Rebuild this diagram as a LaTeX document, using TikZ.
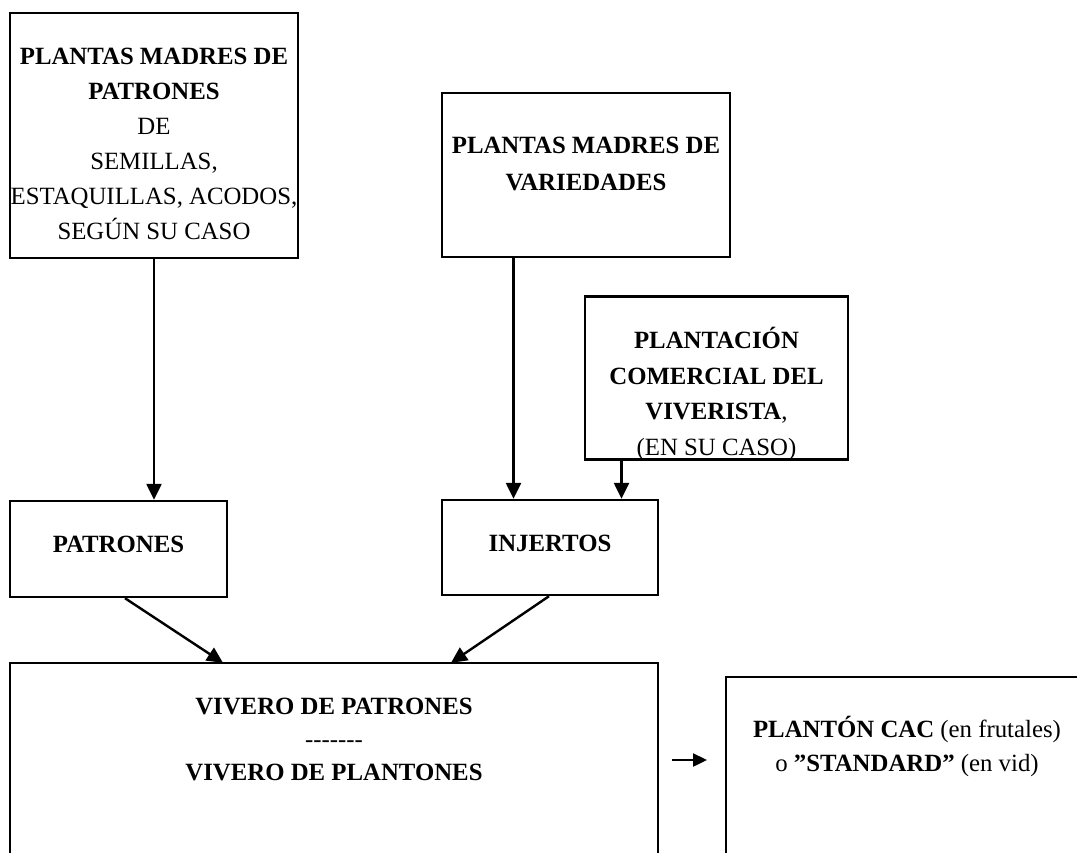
\documentclass[tikz,border=0pt]{standalone}
\usepackage{fontspec}
\setmainfont{Liberation Serif}
\usetikzlibrary{arrows.meta}
\begin{document}
\begin{tikzpicture}[x=1pt,y=-1pt,
  box/.style={draw,line width=2.4pt,inner sep=0pt},
  open/.style={inner sep=0pt},
  edge/.style={line width=2.4pt},
  txt/.style={align=center,font=\fontsize{24.8}{35}\selectfont,inner sep=0pt},
  arr/.style={line width=2.4pt,-{Triangle[width=15pt,length=16pt]}},
  sarr/.style={line width=2.4pt,-{Triangle[width=13pt,length=14pt]}}]
\path[use as bounding box] (0,0) rectangle (1077,852);
\clip (0,0) rectangle (1077,852);
% boxes
\node[box,minimum width=288pt,minimum height=245pt] (pmp) at (154,135.5) {};
\node[txt] (tpmp) at (154,144) {\textbf{PLANTAS MADRES DE}\\\textbf{PATRONES}\\DE\\SEMILLAS,\\ESTAQUILLAS, ACODOS,\\SEGÚN SU CASO};
\node[box,minimum width=288pt,minimum height=164pt] (pmv) at (586,175) {};
\node[txt] (tpmv) at (586,163.5) {\textbf{PLANTAS MADRES DE}\\[2pt]\textbf{VARIEDADES}};
\node[box,minimum width=263pt,minimum height=163pt] (pcv) at (716.5,378) {};
\node[txt,font=\fontsize{24.8}{35.5}\selectfont] (tpcv) at (716.5,394) {\textbf{PLANTACIÓN}\\\textbf{COMERCIAL DEL}\\\textbf{VIVERISTA},\\(EN SU CASO)};
\node[box,minimum width=217pt,minimum height=96pt] (pat) at (118.5,549) {};
\node[txt] at (118.5,544) {\textbf{PATRONES}};
\node[box,minimum width=216pt,minimum height=95pt] (inj) at (550,547.5) {};
\node[txt] at (550,543) {\textbf{INJERTOS}};
% open boxes (cut by the page edge)
\node[open,minimum width=648pt,minimum height=237pt] (viv) at (334,781.5) {};
\draw[edge] (viv.south west) -- (viv.north west) -- (viv.north east) -- (viv.south east);
\node[txt,font=\fontsize{24.8}{33}\selectfont] (tviv) at (334,739) {\textbf{VIVERO DE PATRONES}\\-{}-{}-{}-{}-{}-{}-\\\textbf{VIVERO DE PLANTONES}};
\node[open,minimum width=400pt,minimum height=223pt] (std) at (926,788.5) {};
\draw[edge] (std.south west) -- (std.north west) -- (std.north east);
\node[txt,font=\fontsize{24.8}{34}\selectfont] (tstd) at (907,746) {\textbf{PLANTÓN CAC} (en frutales)\\o \textbf{”STANDARD”} (en vid)};
% connectors
\draw[arr] (pmp.south) -- (pat.north -| pmp.south);
\draw[arr] (pmv.south -| 513.5,0) -- (inj.north -| 513.5,0);
\draw[arr] (pcv.south -| 621.5,0) -- (inj.north -| 621.5,0);
\draw[arr] (pat.south -| 125,0) -- (viv.north -| 223,0);
\draw[arr] (inj.south -| 549,0) -- (viv.north -| 451,0);
\coordinate (a1) at (672,760);
\coordinate (a2) at (707,760);
\draw[sarr] (a1) -- (a2);
\end{tikzpicture}
\end{document}
